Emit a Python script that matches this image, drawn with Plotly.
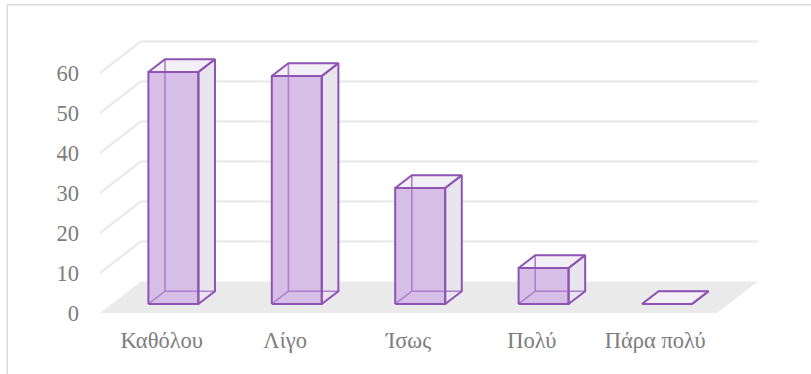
import plotly.graph_objects as go

# Survey answers and counts
categories = ["Καθόλου", "Λίγο", "Ίσως", "Πολύ", "Πάρα πολύ"]
values = [58, 57, 29, 9, 0]
y_ticks = [0, 10, 20, 30, 40, 50, 60]

# Canvas / plot area in pixels
W, H = 811, 374
ML, MR, MT, MB = 90, 41, 35, 61
PW, PH = W - ML - MR, H - MT - MB
PX_PER_CAT = 123.4
PX_PER_UNIT = 4.0
X0 = -0.5 - (100 - ML) / PX_PER_CAT
X1 = X0 + PW / PX_PER_CAT
Y1 = PH / PX_PER_UNIT

# Oblique depth of the floor (in data units) and the bar slab inside it
DEPTH_DX = 41 / PX_PER_CAT
DEPTH_DY = 31.6 / PX_PER_UNIT
F_FRONT, F_BACK = 0.285, 0.69
HALF_W = 0.2025

EDGE = "rgb(142,84,180)"
HIDDEN = "rgb(172,128,206)"
FRONT_FILL = "rgb(215,190,231)"
SIDE_FILL = "rgb(232,229,237)"
TOP_FILL = "rgb(242,240,246)"
GRID = "rgb(232,232,232)"
FLOOR = "rgb(234,234,234)"
TEXT = "#7d7d7d"
FONT = "Liberation Serif"

fig = go.Figure()


def poly(xs, ys, fill=None, line=None, width=0):
    fig.add_trace(go.Scatter(
        x=xs, y=ys, mode="lines",
        fill="toself" if fill else None,
        fillcolor=fill,
        line=dict(color=line or "rgba(0,0,0,0)", width=width),
        hoverinfo="skip", showlegend=False,
    ))


n = len(categories)
left, right = -0.5, n - 0.5

# floor
poly([left, right, right + DEPTH_DX, left + DEPTH_DX, left],
     [0, 0, DEPTH_DY, DEPTH_DY, 0], fill=FLOOR)

# back wall and side wall gridlines
for v in y_ticks[1:]:
    poly([left + DEPTH_DX, right + DEPTH_DX], [v + DEPTH_DY, v + DEPTH_DY],
         line=GRID, width=2)
    poly([left, left + DEPTH_DX], [v, v + DEPTH_DY], line=GRID, width=2)

# 3D columns
bdx = (F_BACK - F_FRONT) * DEPTH_DX
bdy = (F_BACK - F_FRONT) * DEPTH_DY
for i, v in enumerate(values):
    cx = i + F_FRONT * DEPTH_DX
    y0 = F_FRONT * DEPTH_DY
    xl, xr = cx - HALF_W, cx + HALF_W
    front = ([xl, xr, xr, xl, xl], [y0, y0, y0 + v, y0 + v, y0])
    top = ([xl, xl + bdx, xr + bdx, xr, xl],
           [y0 + v, y0 + v + bdy, y0 + v + bdy, y0 + v, y0 + v])
    side = ([xr, xr + bdx, xr + bdx, xr, xr],
            [y0, y0 + bdy, y0 + v + bdy, y0 + v, y0])
    poly(*side, fill=SIDE_FILL)
    poly(*top, fill=TOP_FILL)
    poly(*front, fill=FRONT_FILL)
    # edges seen through the translucent faces
    poly([xl, xl + bdx, xr + bdx], [y0, y0 + bdy, y0 + bdy], line=HIDDEN, width=1.6)
    poly([xl + bdx, xl + bdx], [y0 + bdy, y0 + bdy + v], line=HIDDEN, width=1.6)
    # outer edges
    poly(*side, line=EDGE, width=2)
    poly(*top, line=EDGE, width=2)
    poly(*front, line=EDGE, width=2)

# outer chart border (top and left)
bx = (7.3 - ML) / PW
by = (H - MB - 4.7) / PH
fig.add_shape(type="line", xref="paper", yref="paper", x0=bx, y0=by, x1=1.2, y1=by,
              line=dict(color="#d9d9d9", width=1.5))
fig.add_shape(type="line", xref="paper", yref="paper", x0=bx, y0=by, x1=bx, y1=-0.5,
              line=dict(color="#d9d9d9", width=1.5))

fig.update_layout(
    width=W, height=H,
    margin=dict(l=ML, r=MR, t=MT, b=MB),
    paper_bgcolor="white", plot_bgcolor="white",
    showlegend=False, hovermode=False,
    font=dict(family=FONT, size=22.5, color=TEXT),
    xaxis=dict(range=[X0, X1], tickvals=list(range(n)), ticktext=categories,
               showgrid=False, zeroline=False, showline=False, ticks="",
               ticklabelstandoff=11, fixedrange=True),
    yaxis=dict(range=[0, Y1], tickvals=y_ticks, showgrid=False, zeroline=False,
               showline=False, ticks="", ticklabelstandoff=10, fixedrange=True),
)

fig.write_html("out.html")
